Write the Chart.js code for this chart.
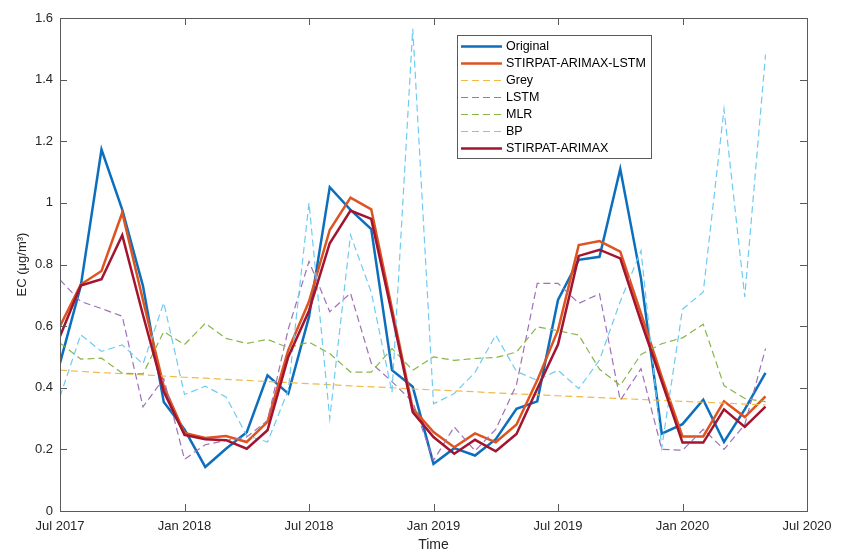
<!DOCTYPE html>
<html>
<head>
<meta charset="utf-8">
<script src="https://cdn.jsdelivr.net/npm/chart.js@4/dist/chart.umd.min.js"></script>
<style>
  html, body { margin: 0; padding: 0; background: #fff; }
  #wrap { width: 850px; height: 558px; }
</style>
</head>
<body>
<div id="wrap"><canvas id="chartContainer" width="850" height="558"></canvas></div>
<script>
// monthly points, Jul 2017 .. May 2020
const months = ['Jul 2017','Aug 2017','Sep 2017','Oct 2017','Nov 2017','Dec 2017',
  'Jan 2018','Feb 2018','Mar 2018','Apr 2018','May 2018','Jun 2018',
  'Jul 2018','Aug 2018','Sep 2018','Oct 2018','Nov 2018','Dec 2018',
  'Jan 2019','Feb 2019','Mar 2019','Apr 2019','May 2019','Jun 2019',
  'Jul 2019','Aug 2019','Sep 2019','Oct 2019','Nov 2019','Dec 2019',
  'Jan 2020','Feb 2020','Mar 2020','Apr 2020','May 2020'];
const xTickLabels = ['Jul 2017','Jan 2018','Jul 2018','Jan 2019','Jul 2019','Jan 2020','Jul 2020'];

const original = [0.48,0.73,1.173,0.978,0.73,0.354,0.265,0.143,0.202,0.256,0.44,0.381,
  0.63,1.051,0.977,0.915,0.457,0.403,0.153,0.204,0.18,0.233,0.332,0.356,
  0.685,0.815,0.825,1.11,0.755,0.251,0.282,0.361,0.224,0.33,0.448];
const arimaxLstm = [0.60,0.735,0.779,0.968,0.684,0.405,0.253,0.237,0.243,0.224,0.289,0.522,
  0.68,0.912,1.017,0.979,0.656,0.332,0.256,0.207,0.252,0.223,0.281,0.424,
  0.587,0.863,0.876,0.842,0.641,0.435,0.242,0.242,0.356,0.305,0.372];
const grey = [0.457,0.453,0.449,0.446,0.442,0.438,0.434,0.431,0.427,0.424,0.420,0.417,
  0.413,0.410,0.406,0.403,0.400,0.396,0.393,0.390,0.387,0.383,0.380,0.377,
  0.374,0.371,0.368,0.365,0.362,0.359,0.356,0.353,0.350,0.347,0.344];
const lstm = [0.75,0.68,0.657,0.632,0.338,0.43,0.168,0.215,0.229,0.24,0.294,0.59,
  0.81,0.647,0.707,0.48,0.42,0.354,0.164,0.273,0.195,0.265,0.41,0.739,
  0.739,0.674,0.705,0.359,0.462,0.2,0.197,0.265,0.2,0.28,0.527];
const mlr = [0.545,0.493,0.496,0.447,0.445,0.582,0.54,0.609,0.56,0.544,0.557,0.53,
  0.548,0.511,0.451,0.451,0.527,0.457,0.5,0.489,0.495,0.498,0.516,0.598,
  0.585,0.571,0.46,0.408,0.508,0.543,0.562,0.606,0.407,0.365,0.355];
const bp = [0.371,0.572,0.518,0.539,0.477,0.676,0.378,0.405,0.37,0.245,0.224,0.392,
  1.0,0.30,0.896,0.71,0.385,1.565,0.348,0.381,0.45,0.571,0.453,0.424,
  0.457,0.397,0.49,0.68,0.845,0.205,0.655,0.711,1.304,0.695,1.481];
const arimax = [0.567,0.732,0.752,0.895,0.636,0.388,0.247,0.233,0.23,0.202,0.262,0.50,
  0.65,0.869,0.975,0.948,0.64,0.321,0.24,0.186,0.231,0.194,0.25,0.397,
  0.54,0.828,0.848,0.82,0.615,0.42,0.222,0.222,0.33,0.273,0.339];

(function(){
    const ctx = document.getElementById('chartContainer').getContext('2d');
    const FONT = '"Liberation Sans", Arial, Helvetica, sans-serif';
    const AXIS = '#5a5a5a';

    function pts(values){
        return values.map((v, i) => ({x: i, y: v}));
    }

    function series(label, values, color, dashed, order){
        return {
            label: label,
            data: pts(values),
            borderColor: color,
            backgroundColor: color,
            borderWidth: dashed ? 1.2 : 2.5,
            borderDash: dashed ? [7, 4] : [],
            pointRadius: 0,
            tension: 0,
            fill: false,
            order: order
        };
    }

    // axes box with inward ticks, like the original figure
    const boxPlugin = {
        id: 'box',
        afterDatasetsDraw(chart){
            const a = chart.chartArea, c = chart.ctx;
            const xs = chart.scales.x, ys = chart.scales.y;
            c.save();
            c.strokeStyle = AXIS;
            c.lineWidth = 1;
            c.strokeRect(Math.round(a.left) + 0.5, Math.round(a.top) + 0.5,
                Math.round(a.right - a.left), Math.round(a.bottom - a.top));
            c.beginPath();
            ys.ticks.forEach(t => {
                const y = Math.round(ys.getPixelForValue(t.value)) + 0.5;
                c.moveTo(a.left, y); c.lineTo(a.left + 7, y);
                c.moveTo(a.right, y); c.lineTo(a.right - 7, y);
            });
            xs.ticks.forEach(t => {
                const x = Math.round(xs.getPixelForValue(t.value)) + 0.5;
                c.moveTo(x, a.bottom); c.lineTo(x, a.bottom - 7);
                c.moveTo(x, a.top); c.lineTo(x, a.top + 7);
            });
            c.stroke();
            c.restore();
        }
    };

    // legend box inside the plot, upper middle
    const legendPlugin = {
        id: 'boxLegend',
        afterDraw(chart){
            const c = chart.ctx;
            const bx = 457, by = 35, bw = 194, bh = 123, row = 17;
            c.save();
            c.fillStyle = '#fff';
            c.fillRect(bx, by, bw, bh);
            c.strokeStyle = AXIS;
            c.lineWidth = 1;
            c.strokeRect(bx + 0.5, by + 0.5, bw, bh);
            chart.data.datasets.forEach((ds, k) => {
                const y = by + 11.5 + k * row;
                c.beginPath();
                c.strokeStyle = ds.borderColor;
                c.lineWidth = ds.borderWidth;
                c.setLineDash(ds.borderDash);
                c.moveTo(bx + 4, y);
                c.lineTo(bx + 45, y);
                c.stroke();
                c.setLineDash([]);
                c.fillStyle = '#000';
                c.font = '12.5px ' + FONT;
                c.textBaseline = 'middle';
                c.fillText(ds.label, bx + 49, y + 0.5);
            });
            c.restore();
        }
    };

    new Chart(ctx, {
        type: 'line',
        data: {
            labels: months,
            datasets: [
                series('Original', original, '#0b6fbd', false, 7),
                series('STIRPAT-ARIMAX-LSTM', arimaxLstm, '#dd5420', false, 6),
                series('Grey', grey, '#f2ba45', true, 5),
                series('LSTM', lstm, '#9f70b8', true, 4),
                series('MLR', mlr, '#86b64a', true, 3),
                series('BP', bp, '#6ecbf2', true, 2),
                series('STIRPAT-ARIMAX', arimax, '#a2142f', false, 1)
            ]
        },
        options: {
            responsive: false,
            animation: false,
            layout: { padding: { top: 18, right: 43, bottom: 0, left: 0 } },
            plugins: {
                legend: { display: false },
                tooltip: { enabled: false }
            },
            scales: {
                x: {
                    type: 'linear',
                    min: 0,
                    max: 36,
                    grid: { display: false, drawTicks: false },
                    border: { display: false },
                    ticks: {
                        stepSize: 6,
                        autoSkip: false,
                        maxRotation: 0,
                        padding: 8,
                        color: '#262626',
                        font: { family: FONT, size: 13 },
                        callback: v => xTickLabels[v / 6]
                    },
                    title: {
                        display: true,
                        text: 'Time',
                        color: '#262626',
                        font: { family: FONT, size: 14 },
                        padding: { top: 0, bottom: 4 }
                    },
                    afterFit: s => { s.height = 47; }
                },
                y: {
                    min: 0,
                    max: 1.6,
                    grid: { display: false, drawTicks: false },
                    border: { display: false },
                    ticks: {
                        stepSize: 0.2,
                        padding: 7,
                        color: '#262626',
                        font: { family: FONT, size: 13 },
                        callback: v => String(+v.toFixed(1))
                    },
                    title: {
                        display: true,
                        text: 'EC (μg/m³)',
                        color: '#262626',
                        font: { family: FONT, size: 13 },
                        padding: { top: 15, bottom: 0 }
                    },
                    afterFit: s => { s.width = 60; }
                }
            }
        },
        plugins: [boxPlugin, legendPlugin]
    });
})();
</script>
</body>
</html>
